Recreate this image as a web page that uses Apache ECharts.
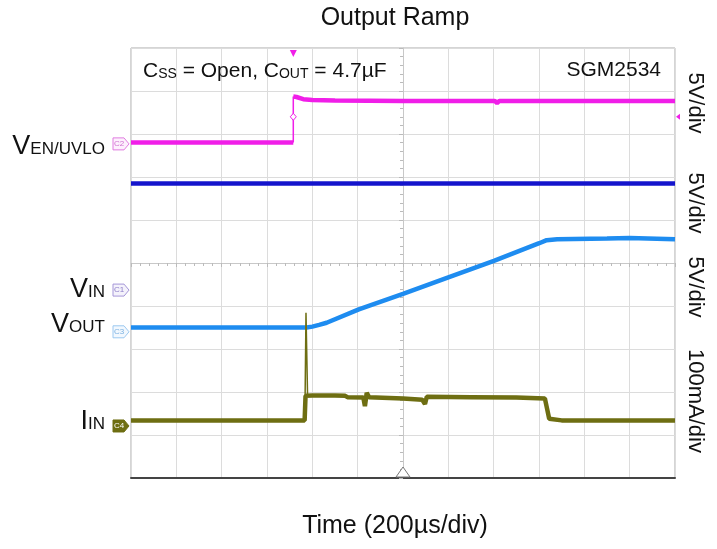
<!DOCTYPE html>
<html>
<head>
<meta charset="utf-8">
<script src="https://cdn.jsdelivr.net/npm/echarts@6/dist/echarts.min.js"></script>
<style>
html,body{margin:0;padding:0;background:#fff}
#main{width:717px;height:549px}
</style>
</head>
<body>
<div id="main"></div>
<script>
// time in µs (200µs/div), amplitude in screen divisions (centre = 0)
var tMin = -1200, tMax = 1200, tStep = 200
var dMin = -5, dMax = 5

var venLow = [[-1200, 2.80], [-484, 2.80]]
var venHigh = [[-484, 3.87], [-470, 3.86], [-440, 3.81], [-400, 3.79], [-300, 3.78], [0, 3.77],
  [405, 3.77], [415, 3.72], [425, 3.77], [800, 3.77], [1200, 3.77]]
var vin = [[-1200, 1.85], [1200, 1.85]]
var vout = [[-1200, -1.50], [-425, -1.50], [-400, -1.48], [-370, -1.44], [-337, -1.39], [-195, -1.08], [0, -0.72],
  [203, -0.33], [401, 0.05], [601, 0.46], [634, 0.53], [680, 0.55], [900, 0.57], [1000, 0.58], [1200, 0.55]]
var iin = [[-1200, -3.66], [-434, -3.66], [-430, -3.09], [-400, -3.08], [-300, -3.08], [-255, -3.09],
  [-245, -3.12], [-175, -3.13], [-168, -3.33], [-160, -3.02], [-150, -3.12], [0, -3.15], [85, -3.18],
  [97, -3.28], [105, -3.11], [300, -3.12], [500, -3.13], [626, -3.15], [632, -3.30], [645, -3.62],
  [700, -3.66], [1200, -3.66]]
var iinSpike = [[-433, -3.66], [-428, -1.16], [-421, -3.09]]

// channel ground markers (divisions) and trigger
var chNames = ['C2', 'C1', 'C3', 'C4']
var chRefs = [2.77, -0.63, -1.60, -3.79]
var trigTime = -484, trigLevel = 3.40

var FONT = 'Liberation Sans, Arial, sans-serif'
var cMag = '#f01ee8', cVin = '#1414cc', cVout = '#1e8cf0', cIin = '#6e6e12'

var chart = echarts.init(document.getElementById('main'))

function line(name, data, color, width) {
  return {
    name: name, type: 'line', data: data, showSymbol: false, animation: false,
    lineStyle: {color: color, width: width}, itemStyle: {color: color}, z: 3
  }
}

var option = {
  backgroundColor: '#fff',
  grid: {left: 131, top: 48, width: 544, height: 430, show: true, borderColor: '#aaa', borderWidth: 1},
  xAxis: [{
    type: 'value', min: tMin, max: tMax, interval: tStep,
    axisLine: {onZero: true, lineStyle: {color: '#c8c8c8'}},
    axisTick: {show: true, length: 4, lineStyle: {color: '#bbb'}},
    minorTick: {show: true, splitNumber: 5, length: 3, lineStyle: {color: '#bbb'}},
    axisLabel: {show: false},
    splitLine: {lineStyle: {color: '#dcdcdc'}}
  }, {
    type: 'value', min: tMin, max: tMax, position: 'bottom',
    axisLine: {onZero: false, lineStyle: {color: '#444', width: 2}},
    axisTick: {show: false}, axisLabel: {show: false}, splitLine: {show: false}
  }],
  yAxis: {
    type: 'value', min: dMin, max: dMax, interval: 1,
    axisLine: {onZero: true, lineStyle: {color: '#c8c8c8'}},
    axisTick: {show: true, length: 4, lineStyle: {color: '#bbb'}},
    minorTick: {show: true, splitNumber: 5, length: 3, lineStyle: {color: '#bbb'}},
    axisLabel: {show: false},
    splitLine: {lineStyle: {color: '#dcdcdc'}}
  },
  series: [
    line('VEN low', venLow, cMag, 4.5),
    line('VEN step', [venLow[venLow.length - 1], venHigh[0]], cMag, 1.5),
    line('VEN high', venHigh, cMag, 4.5),
    line('VIN', vin, cVin, 4.5),
    line('VOUT', vout, cVout, 4.5),
    line('IIN', iin, cIin, 4.5),
    line('IIN spike', iinSpike, cIin, 1.5)
  ]
}
chart.setOption(option)

function px(t, d) { return chart.convertToPixel({gridIndex: 0}, [t, d]) }

var g = []
// titles and notes
g.push({type: 'text', x: 395, y: 18, style: {text: 'Output Ramp', font: '25px ' + FONT, fill: '#111', align: 'center', verticalAlign: 'middle'}})
g.push({type: 'text', x: 395, y: 526, style: {text: 'Time (200µs/div)', font: '25px ' + FONT, fill: '#111', align: 'center', verticalAlign: 'middle'}})
g.push({type: 'text', x: 143, y: 82, z: 10, style: {
  text: '{m|C}{s|SS}{m| = Open, C}{s|OUT}{m| = 4.7µF}', align: 'left', verticalAlign: 'bottom', fill: '#111',
  rich: {m: {fontSize: 21, fontFamily: FONT, verticalAlign: 'bottom'}, s: {fontSize: 14, fontFamily: FONT, verticalAlign: 'bottom', padding: [0, 0, 1, 0]}}
}})
g.push({type: 'text', x: 661, y: 70, style: {text: 'SGM2534', font: '21px ' + FONT, fill: '#111', align: 'right', verticalAlign: 'middle'}})

// per-channel scale labels on the right
var scales = [['5V/div', 103], ['5V/div', 203], ['5V/div', 287], ['100mA/div', 401]]
scales.forEach(function (s) {
  g.push({type: 'text', x: 695, y: s[1], rotation: -Math.PI / 2, style: {text: s[0], font: '22px ' + FONT, fill: '#111', align: 'center', verticalAlign: 'middle'}})
})

// left labels
var rich = {v: {fontSize: 27, fontFamily: FONT, verticalAlign: 'bottom'}, s: {fontSize: 17, fontFamily: FONT, verticalAlign: 'bottom', padding: [0, 0, 2, 0]}}
var leftLabels = [['V', 'EN/UVLO', 160], ['V', 'IN', 303], ['V', 'OUT', 338], ['I', 'IN', 435]]
leftLabels.forEach(function (l) {
  g.push({type: 'text', x: 105, y: l[2], style: {text: '{v|' + l[0] + '}{s|' + l[1] + '}', rich: rich, align: 'right', verticalAlign: 'bottom', fill: '#111'}})
})

// channel markers
var chStyle = [
  {stroke: '#e07ce0', fill: '#fdf0fd', text: '#d070d0'},
  {stroke: '#a596d8', fill: '#f4f2fb', text: '#8c7cc8'},
  {stroke: '#9cc8f0', fill: '#f2f8fe', text: '#7ab0e0'},
  {stroke: cIin, fill: cIin, text: '#fff'}
]
chNames.forEach(function (n, i) {
  var y = px(tMin, chRefs[i])[1]
  var s = chStyle[i]
  g.push({type: 'polygon', x: 113, y: y, shape: {points: [[0, -6], [11, -6], [16, 0], [11, 6], [0, 6]]}, style: {fill: s.fill, stroke: s.stroke, lineWidth: 1}})
  g.push({type: 'text', x: 119, y: y, style: {text: n, font: '8px ' + FONT, fill: s.text, align: 'center', verticalAlign: 'middle'}})
})

// trigger markers
var tp = px(trigTime, trigLevel)
var tTop = px(trigTime, dMax)
g.push({type: 'polygon', x: tTop[0], y: tTop[1] + 2, shape: {points: [[-3.5, 0], [3.5, 0], [0, 7]]}, style: {fill: cMag}})
g.push({type: 'polygon', x: tp[0], y: tp[1], shape: {points: [[0, -3.5], [3, 0], [0, 3.5], [-3, 0]]}, style: {fill: '#fff', stroke: cMag, lineWidth: 1}, z: 5})
var rt = px(tMax, trigLevel)
g.push({type: 'polygon', x: rt[0] + 1, y: rt[1], shape: {points: [[0, 0], [4, -3], [4, 3]]}, style: {fill: cMag}})
var bt = px(0, dMin)
g.push({type: 'polygon', x: bt[0], y: bt[1] - 1, shape: {points: [[-7, 0], [7, 0], [0, -10]]}, style: {fill: '#fff', stroke: '#777', lineWidth: 1}, z: 5})

chart.setOption({graphic: g})
</script>
</body>
</html>
